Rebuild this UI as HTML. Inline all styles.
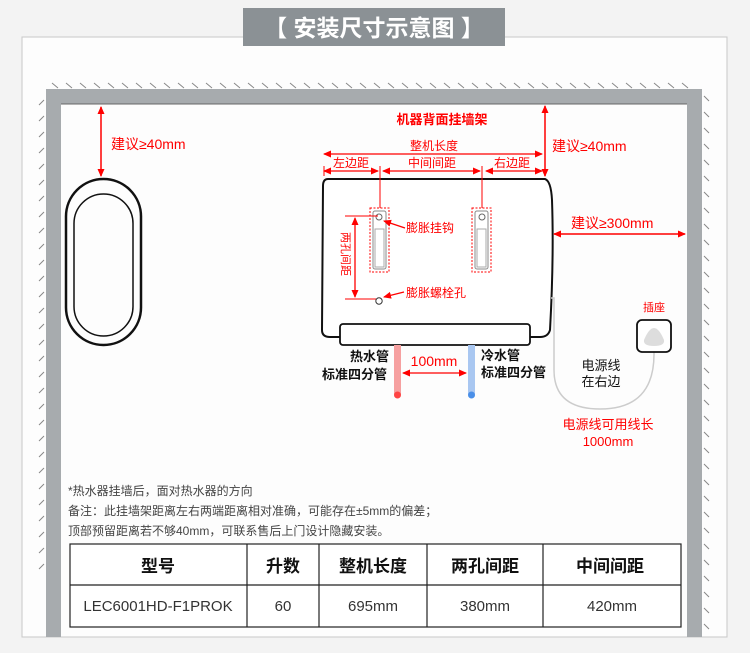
<!DOCTYPE html>
<html><head><meta charset="utf-8"><style>
body{margin:0;width:750px;height:648px;background:#f3f3f3;overflow:hidden;font-family:"Liberation Sans","Noto Sans CJK SC",sans-serif}
</style></head><body>
<svg width="750" height="648" viewBox="0 0 750 648" xmlns="http://www.w3.org/2000/svg" font-family="Liberation Sans, Noto Sans CJK SC, sans-serif">
<defs>
<marker id="a" markerWidth="8" markerHeight="8" refX="7" refY="4" orient="auto-start-reverse" markerUnits="userSpaceOnUse"><path d="M0,0.5 L8,4 L0,7.5z" fill="#f00"/></marker>
</defs>
<rect x="22" y="37" width="705" height="600" fill="#fdfdfd" stroke="#c8c8c8"/>
<rect x="243" y="8" width="262" height="38" fill="#8b9195"/>
<text x="374" y="36" font-size="23" fill="#fff" text-anchor="middle" font-weight="bold">【 安装尺寸示意图 】</text>
<!-- wall -->
<path d="M46 89 H702 V637 H687 V104 H61 V637 H46 Z" fill="#a7abae"/>
<line x1="61" y1="104" x2="687" y2="104" stroke="#666" stroke-width="1"/>
<g stroke="#888" stroke-width="1">
<path d="M52 83 l6 5 M66 83 l6 5 M80 83 l6 5 M94 83 l6 5 M108 83 l6 5 M122 83 l6 5 M136 83 l6 5 M150 83 l6 5 M164 83 l6 5 M178 83 l6 5 M192 83 l6 5 M206 83 l6 5 M220 83 l6 5 M234 83 l6 5 M248 83 l6 5 M262 83 l6 5 M276 83 l6 5 M290 83 l6 5 M304 83 l6 5 M318 83 l6 5 M332 83 l6 5 M346 83 l6 5 M360 83 l6 5 M374 83 l6 5 M388 83 l6 5 M402 83 l6 5 M416 83 l6 5 M430 83 l6 5 M444 83 l6 5 M458 83 l6 5 M472 83 l6 5 M486 83 l6 5 M500 83 l6 5 M514 83 l6 5 M528 83 l6 5 M542 83 l6 5 M556 83 l6 5 M570 83 l6 5 M584 83 l6 5 M598 83 l6 5 M612 83 l6 5 M626 83 l6 5 M640 83 l6 5 M654 83 l6 5 M668 83 l6 5 M682 83 l6 5"/>
<path d="M44 100 l-5 5 M44 116 l-5 5 M44 132 l-5 5 M44 148 l-5 5 M44 164 l-5 5 M44 180 l-5 5 M44 196 l-5 5 M44 212 l-5 5 M44 228 l-5 5 M44 244 l-5 5 M44 260 l-5 5 M44 276 l-5 5 M44 292 l-5 5 M44 308 l-5 5 M44 324 l-5 5 M44 340 l-5 5 M44 356 l-5 5 M44 372 l-5 5 M44 388 l-5 5 M44 404 l-5 5 M44 420 l-5 5 M44 436 l-5 5 M44 452 l-5 5 M44 468 l-5 5 M44 484 l-5 5 M44 500 l-5 5 M44 516 l-5 5 M44 532 l-5 5 M44 548 l-5 5 M44 564 l-5 5"/>
<path d="M704 96 l5 5 M704 112 l5 5 M704 128 l5 5 M704 144 l5 5 M704 160 l5 5 M704 176 l5 5 M704 192 l5 5 M704 208 l5 5 M704 224 l5 5 M704 240 l5 5 M704 256 l5 5 M704 272 l5 5 M704 288 l5 5 M704 304 l5 5 M704 320 l5 5 M704 336 l5 5 M704 352 l5 5 M704 368 l5 5 M704 384 l5 5 M704 400 l5 5 M704 416 l5 5 M704 432 l5 5 M704 448 l5 5 M704 464 l5 5 M704 480 l5 5 M704 496 l5 5 M704 512 l5 5 M704 528 l5 5 M704 544 l5 5 M704 560 l5 5 M704 576 l5 5 M704 592 l5 5 M704 608 l5 5 M704 624 l5 5"/>
</g>
<!-- mirror -->
<rect x="66" y="179" width="75" height="166" rx="37.5" fill="none" stroke="#111" stroke-width="2.5"/>
<rect x="74" y="194" width="59" height="142" rx="29.5" fill="none" stroke="#111" stroke-width="1.5"/>
<line x1="101" y1="107" x2="101" y2="176" stroke="#f00" stroke-width="1.5" marker-start="url(#a)" marker-end="url(#a)"/>
<text x="111" y="149" font-size="14" fill="#f00">建议≥40mm</text>
<!-- heater -->
<path d="M328 179 H545 Q551 181 552 200 Q554 258 550 330 Q548 337 540 337 H330 Q322 337 322 330 L323 186 Q323 179 328 179Z" fill="#fff" stroke="#111" stroke-width="2"/>
<rect x="340" y="324" width="190" height="21" rx="3" fill="#fff" stroke="#111" stroke-width="1.8"/>
<text x="442" y="124" font-size="13" font-weight="bold" fill="#f00" text-anchor="middle">机器背面挂墙架</text>
<text x="434" y="150" font-size="12" fill="#f00" text-anchor="middle">整机长度</text>
<line x1="324" y1="154" x2="542" y2="154" stroke="#f00" stroke-width="1.3" marker-start="url(#a)" marker-end="url(#a)"/>
<text x="351" y="167" font-size="12" fill="#f00" text-anchor="middle">左边距</text>
<text x="432" y="167" font-size="12" fill="#f00" text-anchor="middle">中间间距</text>
<text x="512" y="167" font-size="12" fill="#f00" text-anchor="middle">右边距</text>
<line x1="324" y1="171" x2="378" y2="171" stroke="#f00" stroke-width="1.3" marker-start="url(#a)" marker-end="url(#a)"/>
<line x1="383" y1="171" x2="480" y2="171" stroke="#f00" stroke-width="1.3" marker-start="url(#a)" marker-end="url(#a)"/>
<line x1="486" y1="171" x2="542" y2="171" stroke="#f00" stroke-width="1.3" marker-start="url(#a)" marker-end="url(#a)"/>
<line x1="324" y1="166" x2="324" y2="176" stroke="#f00"/>
<line x1="380" y1="166" x2="380" y2="208" stroke="#f00"/>
<line x1="482" y1="166" x2="482" y2="208" stroke="#f00"/>
<line x1="545" y1="106" x2="545" y2="176" stroke="#f00" stroke-width="1.5" marker-start="url(#a)" marker-end="url(#a)"/>
<text x="552" y="151" font-size="14" fill="#f00">建议≥40mm</text>
<line x1="554" y1="234" x2="685" y2="234" stroke="#f00" stroke-width="1.5" marker-start="url(#a)" marker-end="url(#a)"/>
<text x="571" y="228" font-size="14" fill="#f00">建议≥300mm</text>
<!-- hooks -->
<g fill="none">
<rect x="370" y="208" width="19" height="64" stroke="#f00" stroke-dasharray="2 1.5"/>
<rect x="373" y="211" width="13" height="58" rx="2" stroke="#888"/>
<rect x="375" y="229" width="9" height="38" stroke="#aaa"/>
<circle cx="379" cy="217" r="3" stroke="#666"/>
<rect x="472" y="208" width="19" height="64" stroke="#f00" stroke-dasharray="2 1.5"/>
<rect x="475" y="211" width="13" height="58" rx="2" stroke="#888"/>
<rect x="477" y="229" width="9" height="38" stroke="#aaa"/>
<circle cx="482" cy="217" r="3" stroke="#666"/>
</g>
<line x1="405" y1="228" x2="384" y2="221" stroke="#f00" stroke-width="1.3" marker-end="url(#a)"/>
<text x="406" y="232" font-size="12" fill="#f00">膨胀挂钩</text>
<line x1="345" y1="216" x2="378" y2="216" stroke="#f00"/>
<line x1="345" y1="299" x2="376" y2="299" stroke="#f00"/>
<line x1="355" y1="218" x2="355" y2="297" stroke="#f00" stroke-width="1.3" marker-start="url(#a)" marker-end="url(#a)"/>
<text x="0" y="0" font-size="11" fill="#f00" transform="translate(342,232) rotate(90)">两孔间距</text>
<circle cx="379" cy="301" r="3.2" fill="#fff" stroke="#333"/>
<line x1="404" y1="292" x2="384" y2="297" stroke="#f00" stroke-width="1.3" marker-end="url(#a)"/>
<text x="406" y="297" font-size="12" fill="#f00">膨胀螺栓孔</text>
<!-- pipes -->
<rect x="394" y="345" width="7" height="50" fill="#f6a0a0"/>
<circle cx="397.5" cy="395" r="3.5" fill="#f44"/>
<rect x="468" y="345" width="7" height="50" fill="#a9c7f1"/>
<circle cx="471.5" cy="395" r="3.5" fill="#4a8fe8"/>
<line x1="403" y1="373" x2="466" y2="373" stroke="#f00" stroke-width="1.3" marker-start="url(#a)" marker-end="url(#a)"/>
<text x="434" y="366" font-size="14" fill="#f00" text-anchor="middle">100mm</text>
<text x="350" y="361" font-size="13" fill="#111" font-weight="bold">热水管</text>
<text x="322" y="379" font-size="13" fill="#111" font-weight="bold">标准四分管</text>
<text x="481" y="360" font-size="13" fill="#111" font-weight="bold">冷水管</text>
<text x="481" y="377" font-size="13" fill="#111" font-weight="bold">标准四分管</text>
<!-- plug and cable -->
<path d="M551 298 H554 V370 Q554 409 600 409 Q655 409 654 352" fill="none" stroke="#ccc" stroke-width="1.5"/>
<rect x="637" y="320" width="34" height="32" rx="5" fill="#fff" stroke="#111" stroke-width="1.8"/>
<path d="M654 328 Q659 328 664 340 Q665 346 654 346 Q643 346 644 340 Q649 328 654 328Z" fill="#ddd"/>
<text x="654" y="311" font-size="11" fill="#f00" text-anchor="middle">插座</text>
<text x="601" y="370" font-size="13" fill="#111" text-anchor="middle">电源线</text>
<text x="601" y="386" font-size="13" fill="#111" text-anchor="middle">在右边</text>
<text x="608" y="429" font-size="13" fill="#f00" text-anchor="middle">电源线可用线长</text>
<text x="608" y="446" font-size="13" fill="#f00" text-anchor="middle">1000mm</text>
<!-- notes -->
<text x="68" y="495" font-size="12" fill="#444">*热水器挂墙后，面对热水器的方向</text>
<text x="68" y="515" font-size="12" fill="#444">备注：此挂墙架距离左右两端距离相对准确，可能存在±5mm的偏差；</text>
<text x="68" y="535" font-size="12" fill="#444">顶部预留距离若不够40mm，可联系售后上门设计隐藏安装。</text>
<!-- table -->
<g stroke="#222" stroke-width="1.2" fill="none">
<rect x="70" y="544" width="611" height="83" fill="#fff"/>
<line x1="70" y1="585" x2="681" y2="585"/>
<line x1="247" y1="544" x2="247" y2="627"/>
<line x1="319" y1="544" x2="319" y2="627"/>
<line x1="427" y1="544" x2="427" y2="627"/>
<line x1="543" y1="544" x2="543" y2="627"/>
</g>
<g font-size="17" font-weight="bold" fill="#111" text-anchor="middle">
<text x="158" y="572">型号</text><text x="283" y="572">升数</text><text x="373" y="572">整机长度</text><text x="485" y="572">两孔间距</text><text x="610" y="572">中间间距</text>
</g>
<g font-size="15" fill="#333" text-anchor="middle">
<text x="158" y="611">LEC6001HD-F1PROK</text><text x="283" y="611">60</text><text x="373" y="611">695mm</text><text x="485" y="611">380mm</text><text x="612" y="611">420mm</text>
</g>
</svg>
</body></html>
